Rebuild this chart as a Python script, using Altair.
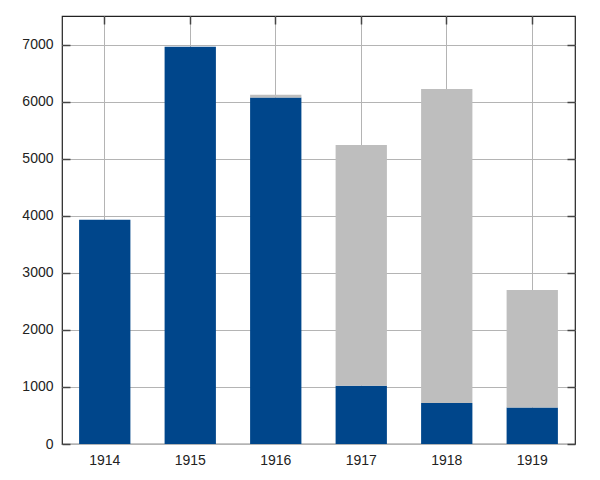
import altair as alt
import pandas as pd

years = ["1914", "1915", "1916", "1917", "1918", "1919"]
blue_values = [3930, 6960, 6070, 1020, 720, 640]
gray_values = [0, 0, 50, 4220, 5500, 2060]
y_ticks = [0, 1000, 2000, 3000, 4000, 5000, 6000, 7000]

rows = []
for y, b, g in zip(years, blue_values, gray_values):
    rows.append({"year": y, "series": "blue", "value": b, "order": 0})
    rows.append({"year": y, "series": "gray", "value": g, "order": 1})
df = pd.DataFrame(rows)

FONT = "Liberation Sans"
GRID = "#b4b4b4"
TICK = "#444444"

xscale = alt.Scale(paddingInner=0.4, paddingOuter=0.2)
yscale = alt.Scale(domain=[0, 7500], nice=False)
cscale = alt.Scale(domain=["blue", "gray"], range=["#00468B", "#BEBEBE"])

base = alt.Chart(df)

bars = base.mark_bar().encode(
    x=alt.X("year:N", sort=years, scale=xscale,
            axis=alt.Axis(title=None, orient="bottom", labelAngle=0, ticks=False,
                          domain=False, grid=True, gridColor=GRID, labelPadding=9,
                          labelFontSize=14, labelFont=FONT, labelColor="#222")),
    y=alt.Y("value:Q", stack="zero", scale=yscale,
            axis=alt.Axis(title=None, orient="left", values=y_ticks, format="d", ticks=False,
                          domain=False, grid=True, gridColor=GRID, labelPadding=9,
                          labelFontSize=14, labelFont=FONT, labelColor="#222")),
    color=alt.Color("series:N", scale=cscale, legend=None),
    order=alt.Order("order:Q"),
)

ticks_tr = base.mark_bar(opacity=0).encode(
    x=alt.X("year:N", sort=years, scale=xscale,
            axis=alt.Axis(title=None, orient="top", offset=-8, ticks=True, tickSize=8,
                          tickWidth=1.5, tickColor=TICK, labels=False, grid=False, domain=False)),
    y=alt.Y("value:Q", stack="zero", scale=yscale,
            axis=alt.Axis(title=None, orient="right", offset=-8, values=y_ticks, ticks=True,
                          tickSize=8, tickWidth=1.5, tickColor=TICK, labels=False,
                          grid=False, domain=False)),
    order=alt.Order("order:Q"),
)

ticks_l = base.mark_bar(opacity=0).encode(
    x=alt.X("year:N", sort=years, scale=xscale, axis=None),
    y=alt.Y("value:Q", stack="zero", scale=yscale,
            axis=alt.Axis(title=None, orient="left", offset=-8, values=y_ticks, ticks=True,
                          tickSize=8, tickWidth=1.5, tickColor=TICK, labels=False,
                          grid=False, domain=False)),
    order=alt.Order("order:Q"),
)

chart = alt.layer(bars, ticks_tr, ticks_l).resolve_axis(
    x="independent", y="independent"
).properties(
    width=513,
    height=428,
    autosize=alt.AutoSizeParams(type="none"),
    padding={"left": 54, "top": 8, "right": 10, "bottom": 26},
).configure_view(stroke="#222222", strokeWidth=1.2)

chart.save("out.html", embed_options={"renderer": "svg", "actions": False})
